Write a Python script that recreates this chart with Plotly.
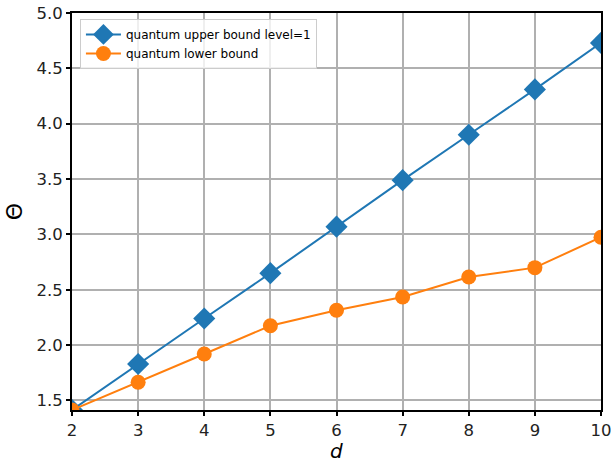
import plotly.graph_objects as go

d_vals = [2, 3, 4, 5, 6, 7, 8, 9, 10]
upper_bound = [1.414, 1.83, 2.24, 2.65, 3.07, 3.49, 3.90, 4.31, 4.73]
lower_bound = [1.414, 1.665, 1.92, 2.175, 2.315, 2.435, 2.615, 2.70, 2.975]
x_ticks = [2, 3, 4, 5, 6, 7, 8, 9, 10]
y_ticks = [1.5, 2.0, 2.5, 3.0, 3.5, 4.0, 4.5, 5.0]

fig = go.Figure()
fig.add_trace(go.Scatter(
    x=d_vals, y=upper_bound, mode="lines+markers",
    name="quantum upper bound level=1",
    line=dict(color="#1f77b4", width=2),
    marker=dict(symbol="diamond", size=17, color="#1f77b4"),
))
fig.add_trace(go.Scatter(
    x=d_vals, y=lower_bound, mode="lines+markers",
    name="quantum lower bound",
    line=dict(color="#ff7f0e", width=2),
    marker=dict(symbol="circle", size=15, color="#ff7f0e"),
))

axis_common = dict(
    showline=True, mirror=True, linecolor="black", linewidth=2,
    ticks="outside", ticklen=4, tickwidth=1.5, tickcolor="black",
    showgrid=True, gridcolor="#b0b0b0", gridwidth=1.5,
    zeroline=False, automargin=False, ticklabeloverflow="allow",
    tickfont=dict(family="DejaVu Sans", size=16.5, color="#222"),
)

fig.update_layout(
    width=611, height=463,
    margin=dict(l=72, r=10, t=13, b=53),
    paper_bgcolor="white", plot_bgcolor="white",
    font=dict(family="DejaVu Sans", color="black"),
    xaxis=dict(range=[2, 10], tickvals=x_ticks, ticktext=[str(v) for v in x_ticks],
               **axis_common),
    yaxis=dict(range=[1.414, 5.0], tickvals=y_ticks, ticktext=[f"{v:.1f}" for v in y_ticks],
               title=dict(text="Θ", font=dict(size=22), standoff=8), **axis_common),
    legend=dict(x=0.015, y=0.985, xanchor="left", yanchor="top",
                bgcolor="rgba(255,255,255,0.8)", bordercolor="#cccccc", borderwidth=1,
                font=dict(size=12, family="DejaVu Sans"), itemwidth=35, tracegroupgap=0),
    showlegend=True,
    annotations=[dict(text="<i>d</i>", xref="paper", yref="paper", x=0.5, y=0,
                      xanchor="center", yanchor="middle", yshift=-41, showarrow=False,
                      font=dict(size=20, family="DejaVu Sans", color="black"))],
)

fig.write_html("out.html", config={"displayModeBar": False},
               post_script="document.body.style.margin='0';")
